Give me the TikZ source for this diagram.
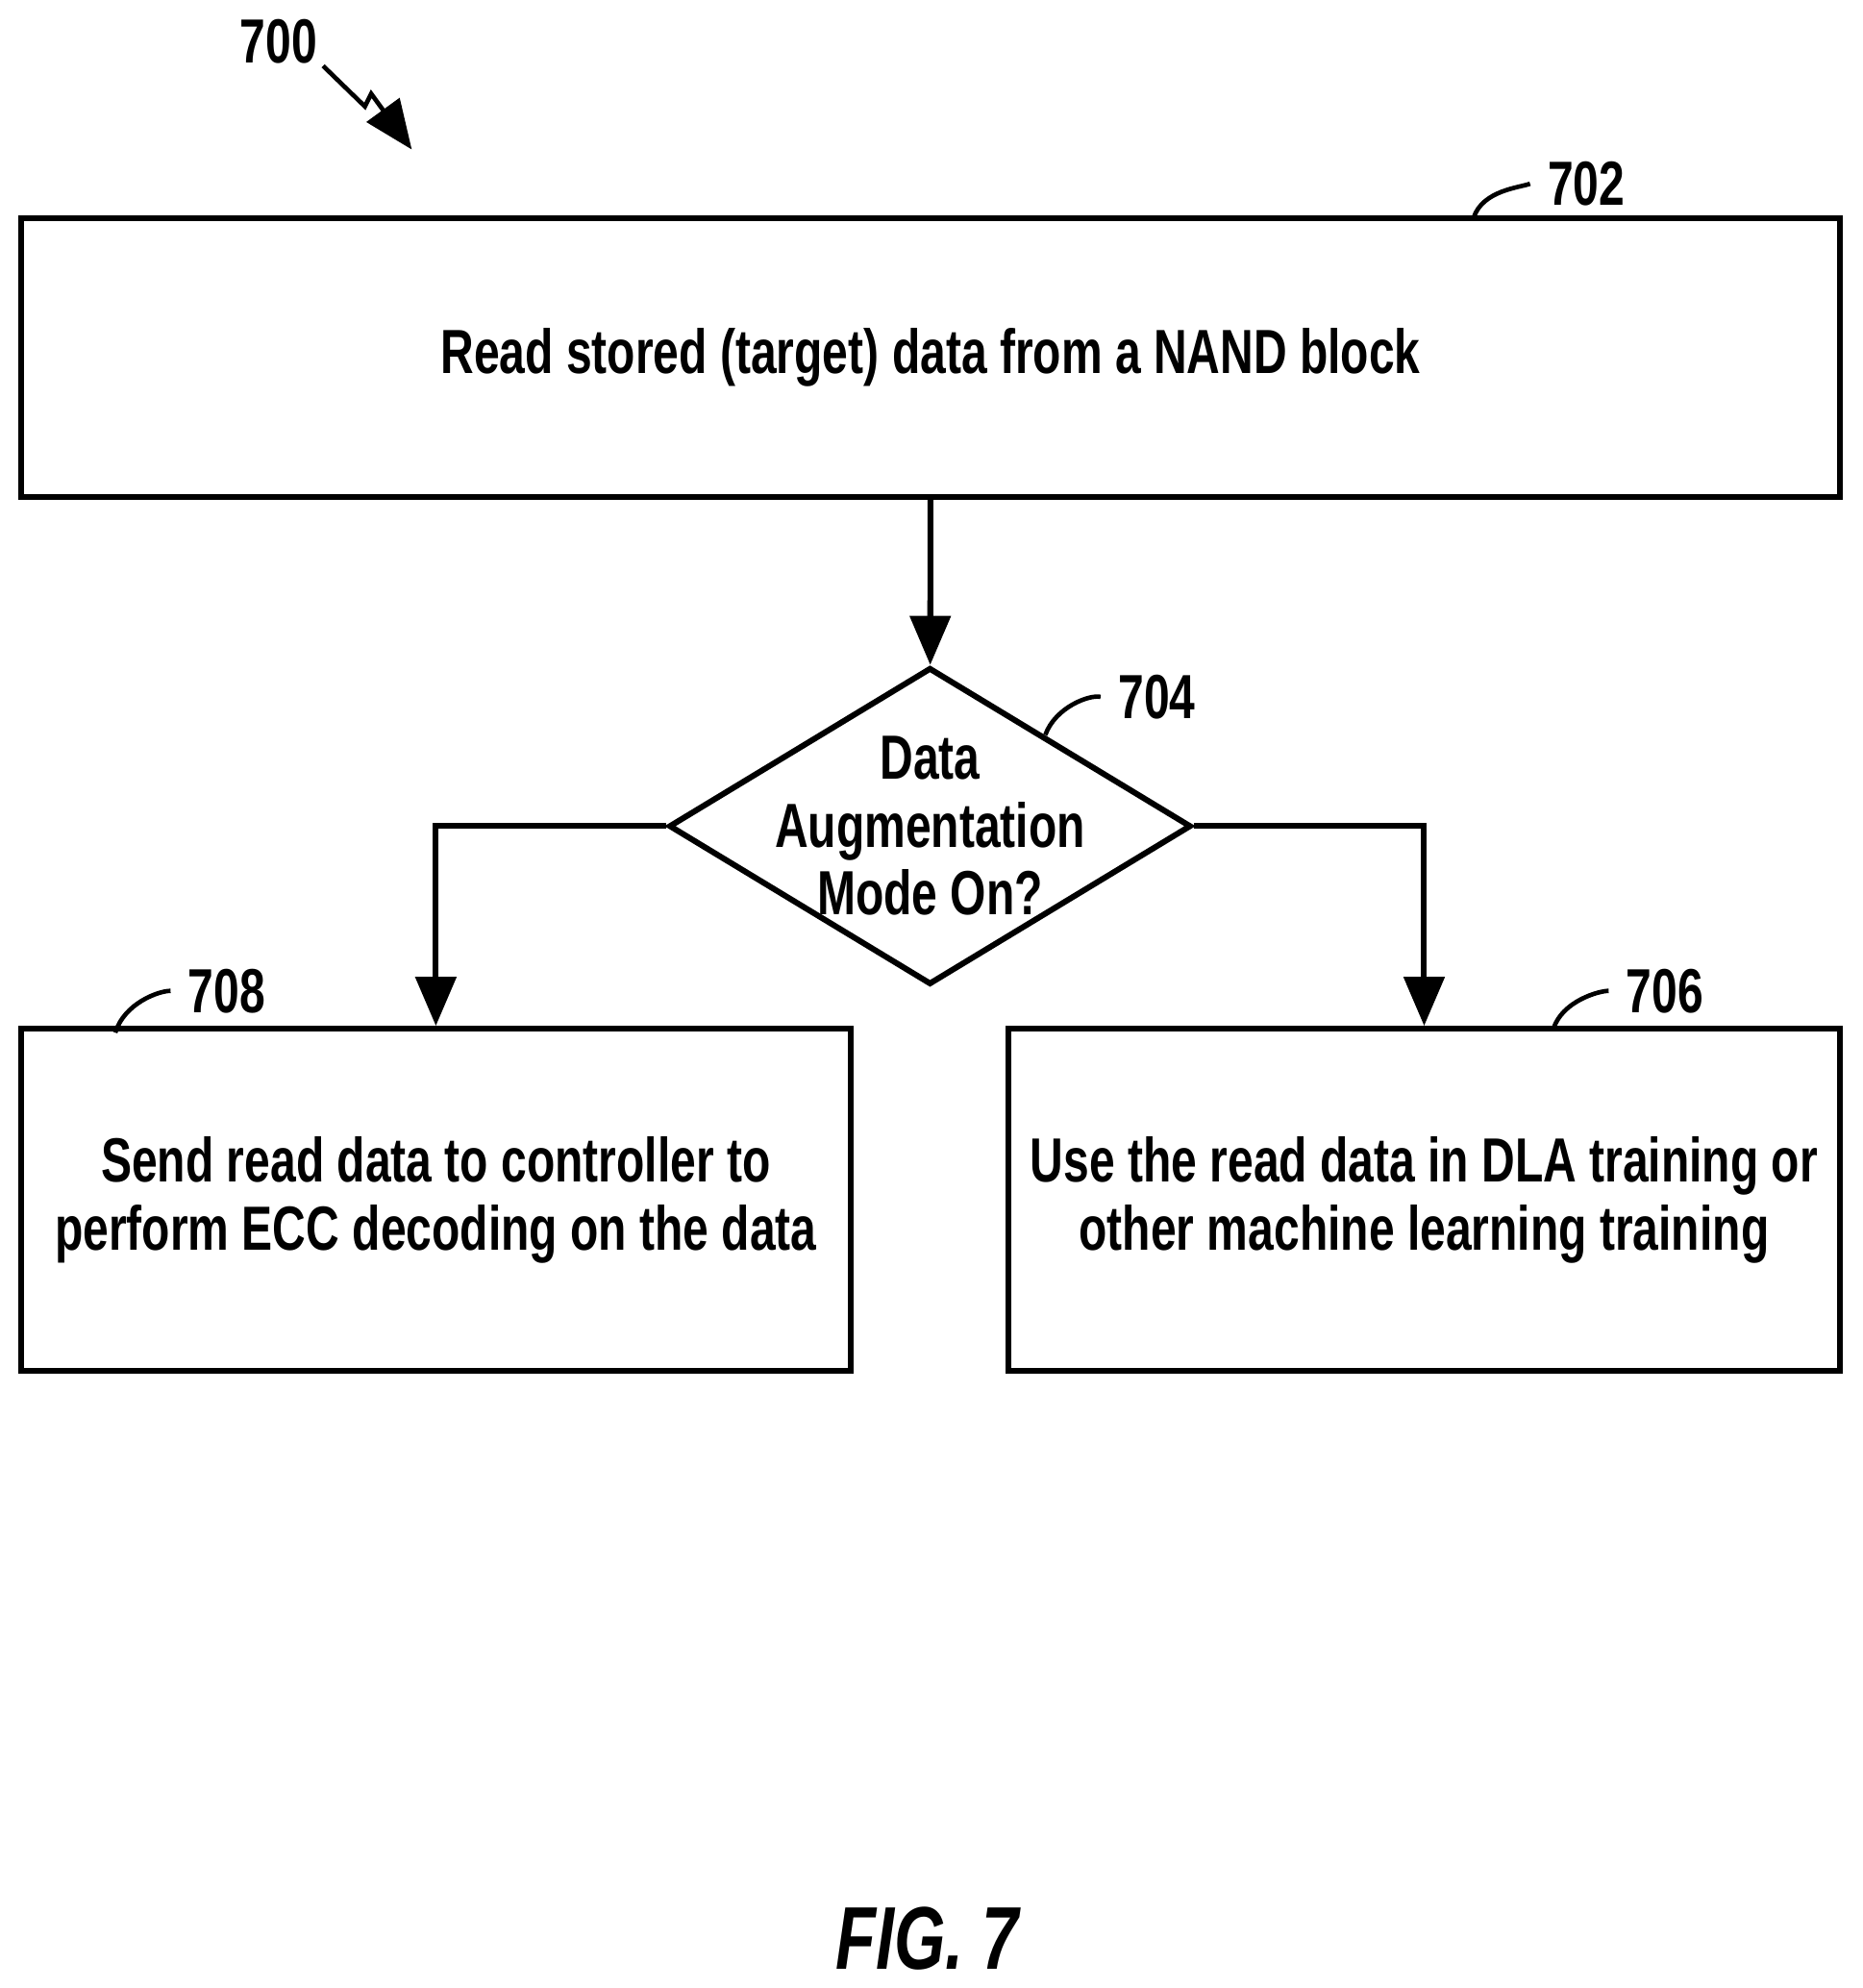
\documentclass[tikz,border=0pt]{standalone}
\usepackage{fontspec}
\setmainfont{Liberation Sans}[FakeStretch=0.74]
\usetikzlibrary{shapes.geometric,arrows.meta}

\begin{document}
\begin{tikzpicture}[x=0.01cm,y=-0.01cm,
	line width=1.3pt,
	box/.style={draw=black,rectangle,inner sep=0pt,font=\bfseries\fontsize{14}{15.2}\selectfont,align=center},
	ref/.style={font=\bfseries\fontsize{14}{17}\selectfont},
	arr/.style={-{Triangle[length=11pt,width=9pt]}}]

	\useasboundingbox (0,0) rectangle (1470,1569);

	\node[box,minimum width=14.35cm,minimum height=2.2cm] (read) at (734.5,282) {Read stored (target) data from a NAND block};
	\node[draw=black,diamond,inner sep=0pt,minimum width=4.12cm,minimum height=2.5cm,aspect=1.65] (mode) at (734,652) {};
	\node[box,draw=none] (modetext) at (mode.center) {Data\\Augmentation\\Mode On?};
	\node[box,minimum width=6.54cm,minimum height=2.7cm] (send) at (344,947) {Send read data to controller to\\perform ECC decoding on the data};
	\node[box,minimum width=6.56cm,minimum height=2.7cm] (use) at (1124,947) {Use the read data in DLA training or\\other machine learning training};

	\path[arr] (read) edge (mode);
	\draw[arr] (mode.west) -| (send.north);
	\draw[arr] (mode.east) -| (use.north);

	% reference numerals
	\node[ref] (n700) at (220,33) {700};
	\node[ref] (n702) at (1252,145) {702};
	\node[ref] (n704) at (913,550) {704};
	\node[ref] (n706) at (1314,782) {706};
	\node[ref] (n708) at (179,782) {708};
	\node[ref,font=\bfseries\itshape\fontsize{20}{24}\selectfont] (fig) at (732,1530) {FIG. 7};

	\draw[line width=1pt] (1163,172) .. controls (1170,150) and (1200,148) .. (n702.west);
	\draw[line width=1pt] (825,580) .. controls (833,558) and (860,548) .. (n704.west);
	\draw[line width=1pt] (1226,812) .. controls (1233,790) and (1262,782) .. (n706.west);
	\draw[line width=1pt] (91,815) .. controls (98,792) and (125,782) .. (n708.west);
	\draw[line width=1pt,arr] (255,52) -- (288,84) -- (293,74) -- (325,118);
\end{tikzpicture}
\end{document}
